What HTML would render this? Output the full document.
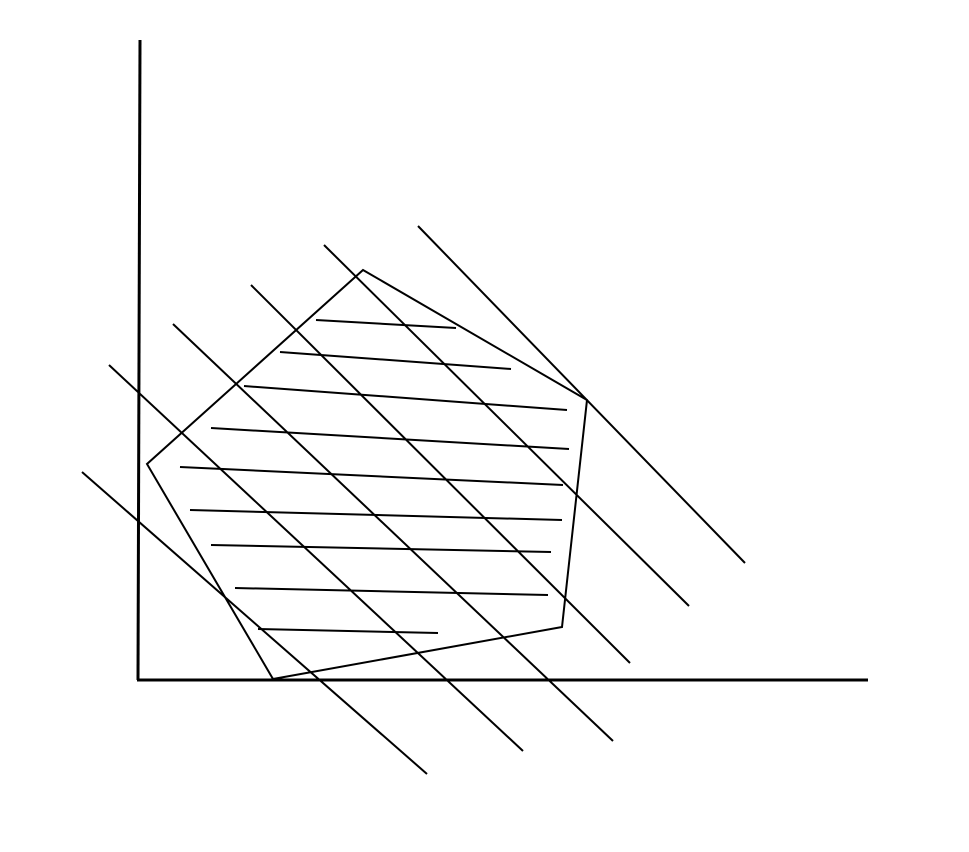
<!DOCTYPE html>
<html>
<head>
<meta charset="utf-8">
<style>
html,body{margin:0;padding:0;background:#fff;}
svg{display:block;}
</style>
</head>
<body>
<svg id="chart" width="969" height="852" viewBox="0 0 969 852" xmlns="http://www.w3.org/2000/svg"></svg>
<script>
// Data in sketch units: origin at axis corner, y upward
const axisLines = [[2,640,0,0],[-1,0,730,0]];
const pentagonX = [225,449,424,135,9];
const pentagonY = [410,280,53,1,216];
const diagX1 = [-56,-29,35,113,186,280];
const diagY1 = [208,315,356,395,435,454];
const diagX2 = [289,385,475,492,551,607];
const diagY2 = [-94,-71,-61,17,74,117];
const hatchX1 = [178,142,106,73,42,52,73,97,120];
const hatchY1 = [360,328,294,252,213,170,135,92,51];
const hatchX2 = [318,373,429,431,425,424,413,410,300];
const hatchY2 = [352,311,270,231,195,160,128,85,47];

const ox = 138, oy = 680;
function sx(v){ return ox + v; }
function sy(v){ return oy - v; }

const svg = document.getElementById('chart');
const NS = 'http://www.w3.org/2000/svg';
function line(x1,y1,x2,y2,name,w){
  const l = document.createElementNS(NS,'line');
  l.setAttribute('x1',sx(x1)); l.setAttribute('y1',sy(y1));
  l.setAttribute('x2',sx(x2)); l.setAttribute('y2',sy(y2));
  l.setAttribute('stroke','#000'); l.setAttribute('stroke-width',w||'2');
  
  
  svg.appendChild(l);
}
line(axisLines[0][0],axisLines[0][1],axisLines[0][2],axisLines[0][3],'y-axis','3');
line(axisLines[1][0],axisLines[1][1],axisLines[1][2],axisLines[1][3],'x-axis','3');

const poly = document.createElementNS(NS,'polygon');
poly.setAttribute('points', pentagonX.map((x,i)=>sx(x)+','+sy(pentagonY[i])).join(' '));
poly.setAttribute('fill','none'); poly.setAttribute('stroke','#000'); poly.setAttribute('stroke-width','2');


svg.appendChild(poly);

for(let i=0;i<diagX1.length;i++) line(diagX1[i],diagY1[i],diagX2[i],diagY2[i],'diagonal-line-'+(i+1));
for(let i=0;i<hatchX1.length;i++) line(hatchX1[i],hatchY1[i],hatchX2[i],hatchY2[i],'hatch-line-'+(i+1));
</script>
</body>
</html>
